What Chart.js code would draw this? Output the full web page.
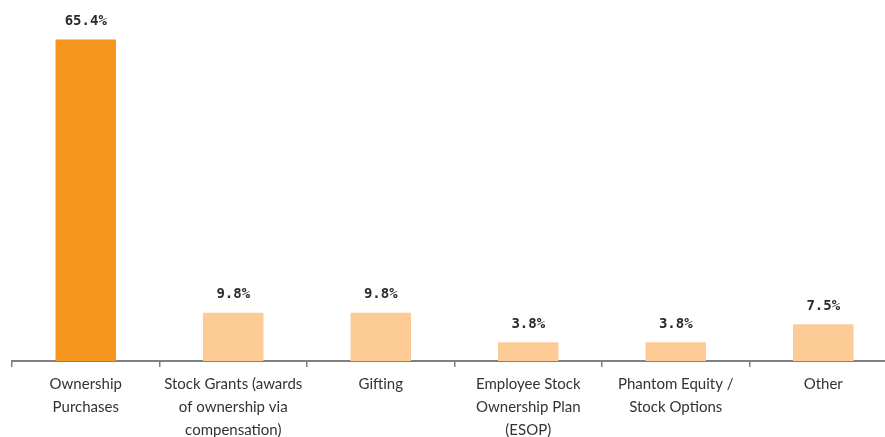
<!DOCTYPE html>
<html>
<head>
<meta charset="utf-8">
<script src="https://cdn.jsdelivr.net/npm/chart.js@4/dist/chart.umd.min.js"></script>
<style>
    html, body { margin: 0; padding: 0; background: white; overflow: hidden; }
    #wrap { position: relative; width: 885px; height: 437px; overflow: hidden; }
    #transferChart { position: absolute; left: 0; top: 0; }
</style>
</head>
<body>
<div id="wrap">
    <canvas id="transferChart" width="897" height="448"></canvas>
</div>
<script>

// Ownership transfer methods

var categories = [
    ['Ownership', 'Purchases'],
    ['Stock Grants (awards', 'of ownership via', 'compensation)'],
    ['Gifting'],
    ['Employee Stock', 'Ownership Plan', '(ESOP)'],
    ['Phantom Equity /', 'Stock Options'],
    ['Other']];

var shares = [65.4, 9.8, 9.8, 3.8, 3.8, 7.5];

var bar_colors = ['#F7961F', '#FDCB96', '#FDCB96', '#FDCB96', '#FDCB96', '#FDCB96'];


// value labels above each bar
var value_labels = {
    id: 'valueLabels',
    afterDatasetsDraw: function(chart) {
        var ctx = chart.ctx;
        var meta = chart.getDatasetMeta(0);
        ctx.save();
        ctx.font = "bold 14px 'DejaVu Sans Mono', monospace";
        ctx.fillStyle = '#2b2b2b';
        ctx.textAlign = 'center';
        ctx.textBaseline = 'middle';
        meta.data.forEach(function(bar, i) {
            ctx.fillText(shares[i].toFixed(1) + '%', bar.x, bar.y - 18);
        });
        ctx.restore();
    }
};


var ctx = document.getElementById('transferChart').getContext('2d');

var chart_object = new Chart(ctx, {
    type: 'bar',

    data: {
        labels: categories,
        datasets: [{
            data: shares,
            backgroundColor: bar_colors,
            borderWidth: 0,
            barPercentage: 0.41,
            categoryPercentage: 1.0,}],},

    options: {
        responsive: false,
        animation: false,
        layout: {padding: {left: 12, right: 0, top: 7, bottom: 0}},

        scales: {
            y: {
                display: false,
                min: 0,
                max: 72,},
            x: {
                border: {color: '#808080', width: 2,},
                grid: {
                    offset: true,
                    drawOnChartArea: false,
                    drawTicks: true,
                    tickLength: 6,
                    color: '#808080',
                    lineWidth: 1.5,},
                ticks: {
                    color: '#333333',
                    padding: 6,
                    maxRotation: 0,
                    autoSkip: false,
                    font: {family: "'Lato', sans-serif", size: 15, lineHeight: '23px'},},},
        },

        plugins: {
            legend: {display: false,},
            tooltip: {enabled: false,},
            title: {display: false,},},
    },

    plugins: [value_labels],
});

</script>
</body>
</html>
